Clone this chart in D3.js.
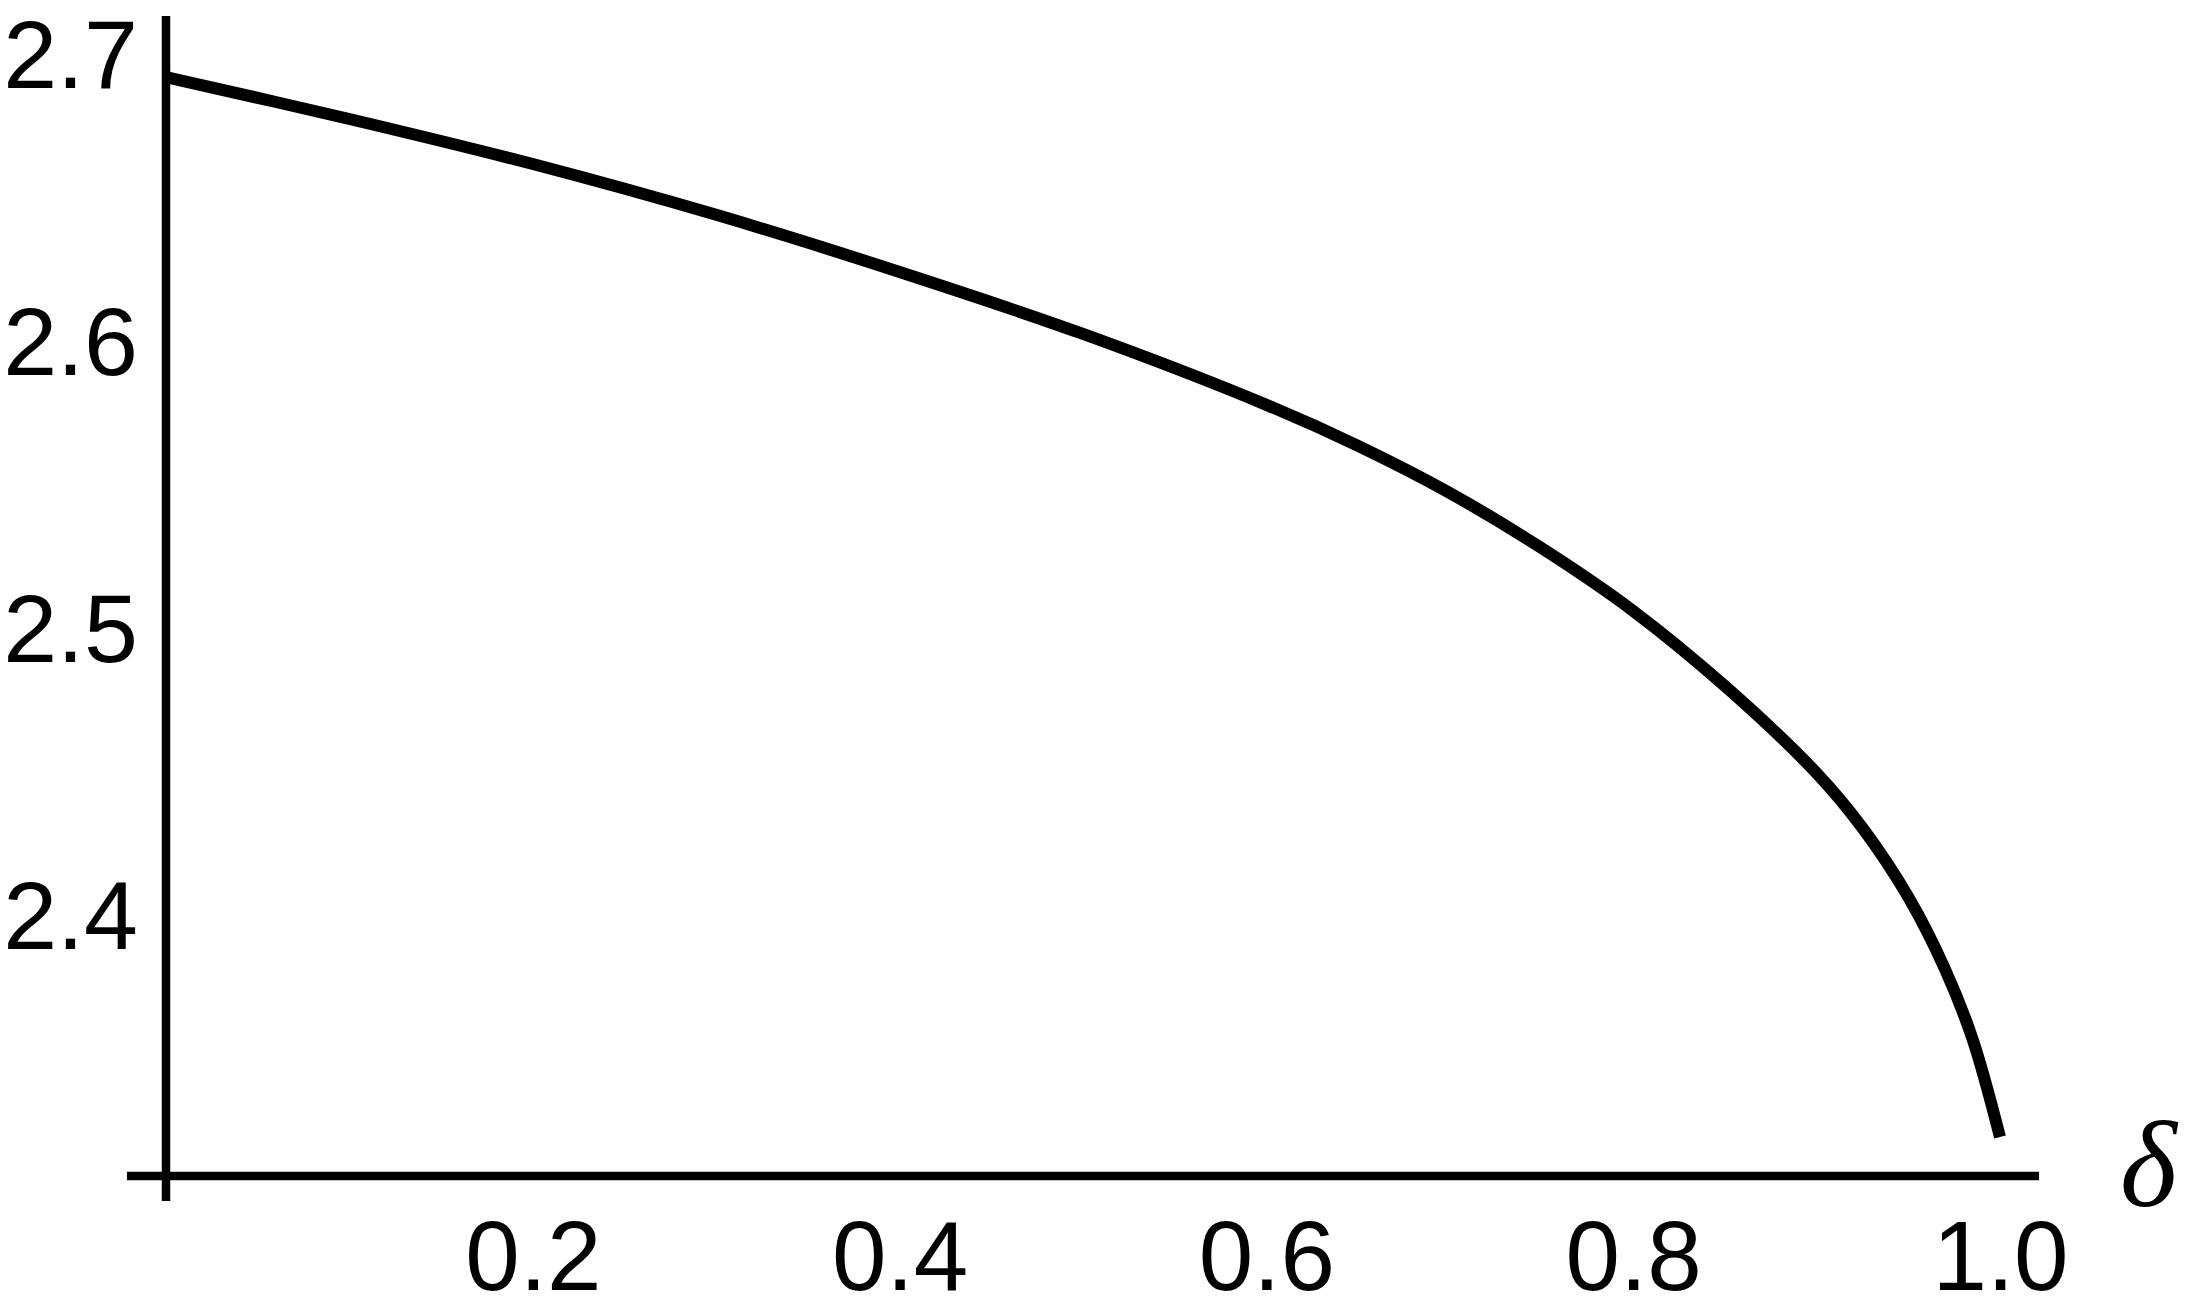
<!DOCTYPE html>
<html>
<head>
<meta charset="utf-8">
<script src="https://d3js.org/d3.v7.min.js"></script>
<style>
  body { margin: 0; background: #fff; }
  svg text { font-family: "Liberation Sans", Arial, sans-serif; }
</style>
</head>
<body>
<svg width="2190" height="1315"></svg>
<script>
// values
var delta = [0, 0.1, 0.2, 0.3, 0.4, 0.5, 0.6, 0.65, 0.7, 0.75, 0.8, 0.85, 0.9, 0.925, 0.95, 0.97, 0.985, 1.0];
var value = [2.6916, 2.6770, 2.6613, 2.6436, 2.6237, 2.6021, 2.5774, 2.5631, 2.5467, 2.5275, 2.5056, 2.4794, 2.4491, 2.4300, 2.4059, 2.3808, 2.3565, 2.3223];
var xTicks = [0.2, 0.4, 0.6, 0.8, 1.0];
var yTicks = [2.4, 2.5, 2.6, 2.7];

var svg = d3.select("svg");

var x = d3.scaleLinear().domain([0, 1]).range([166, 2000]);
var y = d3.scaleLinear().domain([2.3, 2.7]).range([1201, 53]);

// axis lines
svg.append("line")
  .attr("x1", x(-0.0213)).attr("x2", x(1.0213))
  .attr("y1", y(2.3087)).attr("y2", y(2.3087))
  .attr("stroke", "#000").attr("stroke-width", 8.5);
svg.append("line")
  .attr("x1", x(0)).attr("x2", x(0))
  .attr("y1", y(2.7129)).attr("y2", y(2.3))
  .attr("stroke", "#000").attr("stroke-width", 8.5);

// tick labels
var gx = svg.append("g")
  .attr("transform", "translate(0," + y(2.3087) + ")")
  .call(d3.axisBottom(x).tickValues(xTicks).tickSize(0).tickPadding(44)
    .tickFormat(d3.format(".1f")));
gx.select(".domain").remove();
gx.selectAll("text").attr("font-size", 98).attr("fill", "#000")
  .style("font-family", "'Liberation Sans', Arial, sans-serif");

var gy = svg.append("g")
  .attr("transform", "translate(" + x(0) + ",0)")
  .call(d3.axisLeft(y).tickValues(yTicks).tickSize(0).tickPadding(28)
    .tickFormat(d3.format(".1f")));
gy.select(".domain").remove();
gy.selectAll("text").attr("font-size", 97).attr("fill", "#000").attr("dy", "0.36em")
  .style("font-family", "'Liberation Sans', Arial, sans-serif");

// axis label
svg.append("text")
  .attr("x", 2120).attr("y", 1206)
  .attr("font-size", 122)
  .style("font-family", "'Liberation Serif', 'Times New Roman', serif")
  .style("font-style", "italic")
  .text("δ");

// curve
var pts = delta.map(function(d, i) { return [d, value[i]]; });
var line = d3.line()
  .x(function(d) { return x(d[0]); })
  .y(function(d) { return y(d[1]); })
  .curve(d3.curveCatmullRom.alpha(0.5));
svg.append("path")
  .datum(pts)
  .attr("d", line)
  .attr("fill", "none")
  .attr("stroke", "#000")
  .attr("stroke-width", 12);
</script>
</body>
</html>
